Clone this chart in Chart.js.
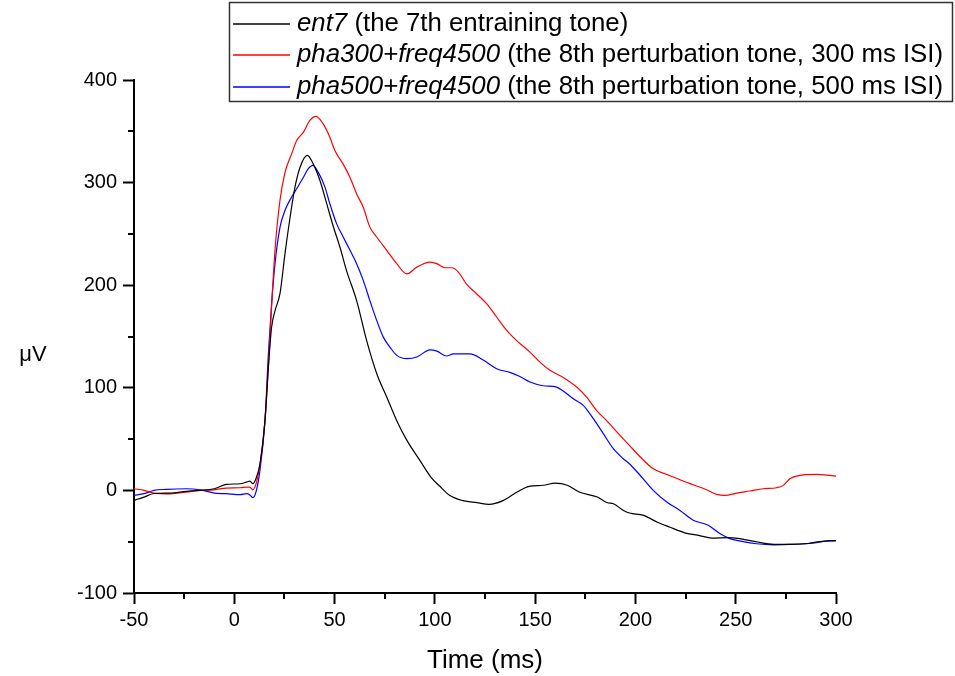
<!DOCTYPE html>
<html><head><meta charset="utf-8">
<script src="https://cdn.jsdelivr.net/npm/chart.js@4.4.0/dist/chart.umd.min.js"></script>
<style>html,body{margin:0;padding:0;background:#fff;overflow:hidden}#wrap{width:955px;height:676px;position:relative}</style>
</head><body><div id="wrap"><canvas id="c" width="955" height="676"></canvas></div>
<script>
// ---- data ----
const entTime = [-50,-45,-40,-32,-24,-17,-10,-4,3,6,7.8,9.2,10.8,12.8,15.3,17,18.6,20.3,22.8,25.3,27.8,30.3,32.8,36.4,39.4,42.7,46,49.4,52.7,56,61,66,71,76,81,86,92.6,98,102.5,107.5,114,121,127,134,141,147,154,160,166,172,181,186,189,194,197,204,211,217,225,232,238,246,252,260,269,277,285,292,300];
const entValues = [-9.7,-6.5,-3,-2.6,-1,0,1.6,5.8,6.5,8,9,6.5,11.4,26,68,120,159,175,192,231,266,296,315,326.5,318,302,280,257,237,214,185,146,114,91,68,49,29,13,4,-5,-10,-12,-13.6,-10,-1.6,4,5,7,5,-1.6,-6.5,-12,-13,-19.5,-22,-24.4,-31,-35.7,-41.6,-44,-46.5,-46,-47,-50,-52.6,-52.6,-52,-50,-49];

const pha300Time = [-50,-45,-40,-32,-24,-17,-10,-4,3,6,7.8,9.2,11.1,13.1,15.3,17,18.6,20.3,22.8,25.3,28.6,31.1,34.4,37.7,40.7,44.4,47.7,50.2,54.3,57.7,61,64.3,67.6,71,76,81,86,91,97.6,101,105,108.4,111.7,115.8,120.8,125.8,130.8,135.8,140.8,147.4,152.4,157.4,164,170.7,175.7,180.6,185.6,192.3,197,202.2,208.9,215.6,222.2,228.8,235.5,240.5,244.6,250.4,257,263.7,270.4,273.7,277,282,290.3,297,300];
const pha300Values = [1.6,0,-2.6,-3.3,-1.6,0,0.6,2.3,2.6,3.2,3.2,0.6,8,29,68,120,179,234,283,310,328,341,349,360.6,364.5,357,344,331,318,305,289,276,256.6,247,234,221,211,217.6,222.5,221,217,217,212.8,201,191.7,182,169,156,146,134.8,125,117,110,100.7,91,78,68,53.6,43.9,33,21,15.6,10.4,5.5,0.6,-3.9,-4.9,-2.6,-0.6,1.6,2.6,4.9,11.4,14.6,15.6,14.6,14];

const pha500Time = [-50,-45,-40,-34,-24,-17,-10,-4,3,6.2,7.8,9.2,10.8,12.8,15.3,17,18.6,20.3,22.8,25.3,28.6,31.1,34.4,36.9,39.1,41.9,45.2,47.7,51,54.3,57.7,61,64.3,67.6,71,74.3,77.6,81,86,91,97.6,101,105.9,109.2,117.5,124.1,130.8,137.4,142.4,147.4,154,160.7,164,169,174,179,184,189,193.9,197,202.2,208.9,215.6,222.2,228.8,236.3,242.1,247.1,253.7,260.4,268.7,277,283.6,290.3,297,300];
const pha500Values = [-4.9,-3.2,0,1,1.6,0.6,-2.6,-3.2,-4.2,-3.2,-4.5,-7,-1.6,19.5,68,133,182,221,256.6,273,286,294,305,313.5,316.8,310,295.6,279,260,247,234,221,204.7,185,165.7,149.4,139.7,131.6,128.4,130,137,135.8,131,133,133,127,118.6,115,111,105.6,102,100.7,96.8,89.4,82.8,69.9,55.3,40.6,30.9,26,15,0,-11.4,-19.5,-29,-34,-42,-47,-50,-52,-53,-52.6,-52,-51,-49,-49];

const seriesNames = ['ent7', 'pha300+freq4500', 'pha500+freq4500'];
const seriesNotes = [' (the 7th entraining tone)', ' (the 8th perturbation tone, 300 ms ISI)', ' (the 8th perturbation tone, 500 ms ISI)'];
const seriesColors = ['#000000', '#ff0000', '#0000ff'];

const xTickValues = [-50, 0, 50, 100, 150, 200, 250, 300];
const xMinorTicks = [-25, 25, 75, 125, 175, 225, 275];
const yTickValues = [-100, 0, 100, 200, 300, 400];
const yMinorTicks = [-50, 50, 150, 250, 350];
const xTitle = 'Time (ms)';
const yTitle = 'μV';

// ---- chart ----
const FONT = '"Liberation Sans", Arial, Helvetica, sans-serif';
const seriesTimes = [entTime, pha300Time, pha500Time];
const seriesValues = [entValues, pha300Values, pha500Values];

const datasets = seriesNames.map((name, i) => ({
  label: name,
  data: seriesTimes[i].map((t, j) => ({x: t, y: seriesValues[i][j]})),
  borderColor: seriesColors[i],
  backgroundColor: seriesColors[i],
  borderWidth: 1.2,
  pointRadius: 0,
  fill: false,
  cubicInterpolationMode: 'monotone'
}));

const extras = {
  id: 'extras',
  afterDraw(chart) {
    const ctx = chart.ctx;
    const xs = chart.scales.x, ys = chart.scales.y;
    const area = chart.chartArea;
    ctx.save();
    // minor ticks
    ctx.strokeStyle = '#000';
    ctx.lineWidth = 2;
    ctx.beginPath();
    xMinorTicks.forEach(v => {
      const px = Math.round(xs.getPixelForValue(v));
      ctx.moveTo(px, area.bottom);
      ctx.lineTo(px, area.bottom + 6);
    });
    yMinorTicks.forEach(v => {
      const py = Math.round(ys.getPixelForValue(v));
      ctx.moveTo(area.left - 6, py);
      ctx.lineTo(area.left, py);
    });
    ctx.stroke();

    // y title (horizontal)
    ctx.fillStyle = '#000';
    ctx.font = '22px ' + FONT;
    ctx.textAlign = 'center';
    ctx.textBaseline = 'middle';
    ctx.fillText(yTitle, 33, 355);

    // legend box
    const bx = 229.5, by = 2.5, bw = 723, bh = 99;
    ctx.fillStyle = '#fff';
    ctx.fillRect(bx, by, bw, bh);
    ctx.strokeStyle = '#333';
    ctx.lineWidth = 1.5;
    ctx.strokeRect(bx, by, bw, bh);
    const rows = [24, 55, 87];
    for (let i = 0; i < seriesNames.length; i++) {
      const y = rows[i];
      ctx.beginPath();
      ctx.strokeStyle = seriesColors[i];
      ctx.lineWidth = 1.4;
      ctx.moveTo(233, y);
      ctx.lineTo(290, y);
      ctx.stroke();
      ctx.fillStyle = '#000';
      ctx.textAlign = 'left';
      ctx.textBaseline = 'middle';
      ctx.font = 'italic 25.8px ' + FONT;
      ctx.fillText(seriesNames[i], 297, y);
      const w = ctx.measureText(seriesNames[i]).width;
      ctx.font = '25.8px ' + FONT;
      ctx.fillText(seriesNotes[i], 297 + w, y);
    }
    ctx.restore();
  }
};

new Chart(document.getElementById('c'), {
  type: 'line',
  data: {datasets},
  options: {
    responsive: false,
    animation: false,
    events: [],
    layout: {padding: {left: 0, right: 119, top: 80, bottom: 0}},
    plugins: {legend: {display: false}, tooltip: {enabled: false}, title: {display: false}},
    scales: {
      x: {
        type: 'linear', min: -50, max: 300,
        afterBuildTicks: s => { s.ticks = xTickValues.map(v => ({value: v})); },
        afterFit: s => { s.height = 83; },
        grid: {drawOnChartArea: false, drawTicks: true, tickLength: 11, tickWidth: 2, tickColor: '#000'},
        border: {display: true, width: 2, color: '#000'},
        ticks: {font: {size: 20, family: FONT}, color: '#000', padding: 4, maxRotation: 0, autoSkip: false},
        title: {display: true, text: xTitle, color: '#000', font: {size: 26, family: FONT}, padding: {top: 0, bottom: 0}}
      },
      y: {
        type: 'linear', min: -100, max: 400,
        afterBuildTicks: s => { s.ticks = yTickValues.map(v => ({value: v})); },
        afterFit: s => { s.width = 134; },
        grid: {drawOnChartArea: false, drawTicks: true, tickLength: 11, tickWidth: 2, tickColor: '#000'},
        border: {display: true, width: 2, color: '#000'},
        ticks: {font: {size: 20, family: FONT}, color: '#000', padding: 6, autoSkip: false}
      }
    }
  },
  plugins: [extras]
});
</script>
</body></html>
